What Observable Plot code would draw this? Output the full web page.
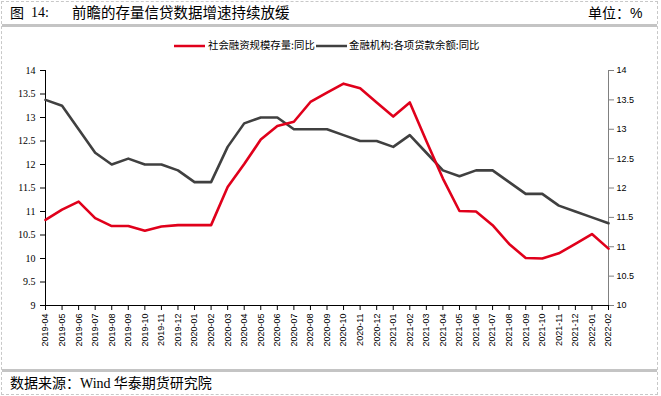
<!DOCTYPE html>
<html><head><meta charset="utf-8">
<script src="https://cdn.jsdelivr.net/npm/d3@7"></script>
<script src="https://cdn.jsdelivr.net/npm/@observablehq/plot@0.6"></script>
<style>
body{margin:0;background:#fff;}
#wrap{position:relative;width:661px;height:396px;overflow:hidden;font-family:"Noto Sans CJK SC",sans-serif;color:#000;}
.border{position:absolute;left:1px;top:1px;width:655px;height:392px;border:1px dashed #c8c8c8;box-sizing:content-box;}
.bar{position:absolute;left:2px;width:655px;height:3px;background:#c4c4c4;}
.t{position:absolute;white-space:nowrap;line-height:1;}
#legend{position:absolute;top:40px;left:0;width:661px;height:12px;font-size:10.4px;}
#chart{position:absolute;left:0;top:55px;}
</style></head>
<body><div id="wrap">
<div class="border"></div>
<div class="t" style="left:10px;top:5px;font-size:14px;">图</div>
<div class="t" style="left:31px;top:6px;font-size:14px;font-family:'Liberation Serif',serif;">14:</div>
<div class="t" style="left:72px;top:5px;font-size:14.5px;">前瞻的存量信贷数据增速持续放缓</div>
<div class="t" style="left:588px;top:5px;font-size:14px;">单位：<span style="font-family:'Liberation Sans',sans-serif;">%</span></div>
<div class="bar" style="top:24px;"></div>
<div id="legend"></div>
<div id="chart"></div>
<div class="bar" style="top:369px;"></div>
<div class="t" style="left:10px;top:375px;font-size:14px;">数据来源：<span style="font-family:'Liberation Serif',serif;">Wind</span> 华泰期货研究院</div>
</div>
<script>
const months = ["2019-04","2019-05","2019-06","2019-07","2019-08","2019-09","2019-10","2019-11","2019-12",
"2020-01","2020-02","2020-03","2020-04","2020-05","2020-06","2020-07","2020-08","2020-09","2020-10","2020-11","2020-12",
"2021-01","2021-02","2021-03","2021-04","2021-05","2021-06","2021-07","2021-08","2021-09","2021-10","2021-11","2021-12",
"2022-01","2022-02"];
const socialFinancing = [10.82,11.04,11.21,10.86,10.69,10.69,10.59,10.68,10.71,10.71,10.71,11.52,12.01,12.53,12.82,12.91,13.33,13.53,13.72,13.62,13.32,13.02,13.32,12.5,11.7,11.01,11.0,10.71,10.31,10.01,10.0,10.11,10.31,10.52,10.21];
const loanBalance = [13.5,13.4,13.0,12.6,12.4,12.5,12.4,12.4,12.3,12.1,12.1,12.7,13.1,13.2,13.2,13.0,13.0,13.0,12.9,12.8,12.8,12.7,12.9,12.6,12.3,12.2,12.3,12.3,12.1,11.9,11.9,11.7,11.6,11.5,11.4];
const leftTicks = [9,9.5,10,10.5,11,11.5,12,12.5,13,13.5,14];
const rightTicks = [10,10.5,11,11.5,12,12.5,13,13.5,14];
const seriesNames = ["社会融资规模存量:同比","金融机构:各项贷款余额:同比"];
const seriesColors = ["#e0001b","#404040"];

const toLeft = v => 9 + (v - 10) * 1.25;
const fromLeft = v => 10 + (v - 9) / 1.25;
const idx = months.map((m,i)=>i);
const rows = months.map((m,i)=>({i, month:m, sf: socialFinancing[i], loan: toLeft(loanBalance[i])}));

const chart = Plot.plot({
  width:661, height:310, marginTop:15, marginBottom:60, marginLeft:45, marginRight:53,
  style:{fontFamily:"Liberation Sans, sans-serif", fontSize:"9px", color:"#000", background:"transparent"},
  x:{type:"linear", domain:[0, months.length-1]},
  y:{domain:[9,14]},
  marks:[
    Plot.axisX(idx, {tickRotate:-90, tickSize:5, tickPadding:3, fontSize:9, fontFamily:"Liberation Sans, sans-serif", stroke:"#000", tickFormat:i=>months[i], label:null}),
    Plot.axisY(leftTicks, {tickSize:5, tickPadding:5, fontSize:10, fontFamily:"Liberation Serif, serif", tickFormat:d=>String(d), stroke:"#000", label:null}),
    Plot.axisY(rightTicks.map(toLeft), {anchor:"right", tickSize:5, tickPadding:3, fontSize:9, fontFamily:"Liberation Sans, sans-serif", stroke:"#808080", fill:"#000", tickFormat:d=>String(+fromLeft(d).toFixed(1)), label:null}),
    Plot.ruleX([0], {stroke:"#000"}),
    Plot.ruleX([months.length-1], {stroke:"#808080"}),
    Plot.ruleY([9], {stroke:"#000"}),
    Plot.lineY(rows, {x:"i", y:"loan", stroke:seriesColors[1], strokeWidth:2.6}),
    Plot.lineY(rows, {x:"i", y:"sf", stroke:seriesColors[0], strokeWidth:2.6})
  ]
});
document.getElementById("chart").appendChild(chart);

// legend
const lg = document.getElementById("legend");
const items = [{x:174, tx:208},{x:316, tx:349}];
items.forEach((it,i)=>{
  const ln = document.createElementNS("http://www.w3.org/2000/svg","svg");
  ln.setAttribute("width",32); ln.setAttribute("height",6);
  ln.style.position="absolute"; ln.style.left=it.x+"px"; ln.style.top="3px";
  ln.innerHTML = `<line x1="0" x2="31" y1="3" y2="3" stroke="${seriesColors[i]}" stroke-width="2.5"/>`;
  lg.appendChild(ln);
  const t = document.createElement("div");
  t.className="t"; t.style.left=it.tx+"px"; t.style.top="0px"; t.textContent=seriesNames[i];
  lg.appendChild(t);
});
</script>
</body></html>
